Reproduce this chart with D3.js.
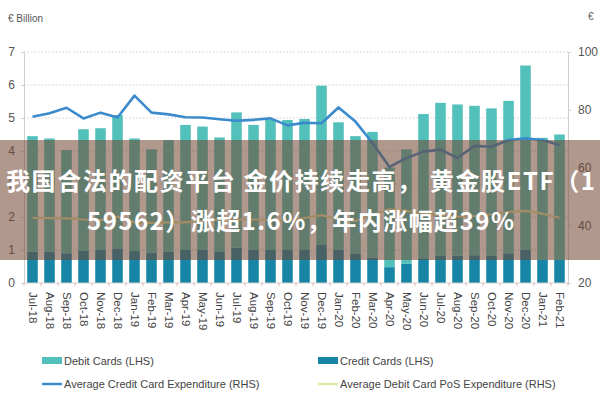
<!DOCTYPE html>
<html>
<head>
<meta charset="utf-8">
<script src="https://cdn.jsdelivr.net/npm/d3@7"></script>
<style>
  html, body { margin: 0; padding: 0; background: #fff; }
  svg { display: block; }
  .narrow { font-family: 'Liberation Sans', Arial, sans-serif; }
</style>
</head>
<body>
<svg id="chart" width="600" height="400"></svg>
<script>
const months = ["Jul-18","Aug-18","Sep-18","Oct-18","Nov-18","Dec-18",
  "Jan-19","Feb-19","Mar-19","Apr-19","May-19","Jun-19","Jul-19","Aug-19","Sep-19","Oct-19","Nov-19","Dec-19",
  "Jan-20","Feb-20","Mar-20","Apr-20","May-20","Jun-20","Jul-20","Aug-20","Sep-20","Oct-20","Nov-20","Dec-20",
  "Jan-21","Feb-21"];
// € billion (LHS), stacked: credit at the bottom, debit on top
const creditCards = [0.95,0.95,0.90,0.97,1.00,1.05,0.97,0.92,0.94,1.00,1.00,0.94,1.07,1.00,1.00,1.00,1.00,1.15,
  1.00,0.88,0.77,0.48,0.58,0.75,0.82,0.83,0.84,0.82,0.90,1.00,0.70,0.70];
const debitCards = [3.50,3.43,3.13,3.69,3.69,4.04,3.41,3.13,3.39,3.79,3.74,3.47,4.10,3.79,3.94,3.94,3.97,4.83,
  3.87,3.57,3.81,3.02,3.47,4.37,4.64,4.58,4.53,4.47,4.62,5.59,3.70,3.80];
// € (RHS)
const avgCreditExp = [77.6,78.8,80.7,77.0,79.0,77.3,84.9,79.0,78.4,77.4,77.3,76.7,76.2,76.5,77.0,74.6,75.5,75.3,
  80.8,75.9,68.5,60.2,63.3,65.5,66.2,63.3,67.5,67.2,69.5,70.1,69.5,67.8];
const avgDebitPosExp = [42.6,42.5,42.4,42.0,41.8,43.0,41.0,40.8,41.0,41.0,41.5,42.0,42.0,42.0,41.8,41.5,42.5,43.5,
  42.0,41.5,43.5,45.5,45.0,44.0,43.5,43.0,43.2,43.8,44.6,45.0,44.0,42.6];
const leftTicks = [0,1,2,3,4,5,6,7];
const rightTicks = [20,40,60,80,100];
const legendItems = ["Debit Cards (LHS)","Credit Cards (LHS)","Average Credit Card Expenditure (RHS)","Average Debit Card PoS Expenditure (RHS)"];
const bannerLines = ["我国合法的配资平台 金价持续走高， 黄金股ETF（1","59562）涨超1.6%，年内涨幅超39%"];

const C = { debit: "#52c0bb", credit: "#1786a6", creditLine: "#3b8bcc", debitLine: "#dfe7a6", grid: "#cfcfcf", axis: "#d0d0d0", text: "#555" };

const svg = d3.select("#chart");
const L = 24, R = 568, T = 52, B = 283;

const x = d3.scaleBand().domain(months).range([L, R]).paddingInner(0.38).paddingOuter(0.19);
const yL = d3.scaleLinear().domain([0, 7]).range([B, T]);
const yR = d3.scaleLinear().domain([20, 100]).range([B, T]);

// gridlines
svg.append("g").selectAll("line").data(leftTicks.filter(d => d > 0)).join("line")
  .attr("x1", L).attr("x2", R).attr("y1", d => yL(d)).attr("y2", d => yL(d))
  .attr("stroke", C.grid).attr("stroke-width", 1).attr("stroke-dasharray", "1.5,2");

// left axis
const gl = svg.append("g").attr("transform", `translate(${L},0)`)
  .call(d3.axisLeft(yL).tickValues(leftTicks).tickSize(3).tickPadding(6).tickFormat(d3.format("d")));
gl.select(".domain").attr("stroke", C.axis);
gl.selectAll(".tick line").attr("stroke", C.axis);
gl.selectAll("text").attr("fill", C.text).style("font-size", "12px").attr("class", "narrow");

// right axis
const gr = svg.append("g").attr("transform", `translate(${R},0)`)
  .call(d3.axisRight(yR).tickValues(rightTicks).tickSize(3).tickPadding(7));
gr.select(".domain").attr("stroke", C.axis);
gr.selectAll(".tick line").attr("stroke", C.axis);
gr.selectAll("text").attr("fill", C.text).style("font-size", "12px").attr("class", "narrow");

// bars
const gb = svg.append("g");
gb.selectAll("rect.credit").data(months).join("rect").attr("class", "credit")
  .attr("x", d => x(d)).attr("width", x.bandwidth())
  .attr("y", (d, i) => yL(creditCards[i])).attr("height", (d, i) => yL(0) - yL(creditCards[i]))
  .attr("fill", C.credit);
gb.selectAll("rect.debit").data(months).join("rect").attr("class", "debit")
  .attr("x", d => x(d)).attr("width", x.bandwidth())
  .attr("y", (d, i) => yL(creditCards[i] + debitCards[i])).attr("height", (d, i) => yL(creditCards[i]) - yL(creditCards[i] + debitCards[i]))
  .attr("fill", C.debit);

// x axis
const gx = svg.append("g").attr("transform", `translate(0,${B})`);
gx.append("line").attr("x1", L).attr("x2", R).attr("stroke", C.axis);
gx.selectAll("line.tk").data(d3.range(months.length + 1)).join("line").attr("class", "tk")
  .attr("x1", i => L + x.step() * i).attr("x2", i => L + x.step() * i)
  .attr("y1", 0).attr("y2", 3).attr("stroke", "#e9b0b0");
gx.selectAll("text").data(months).join("text").attr("class", "narrow")
  .attr("transform", d => `translate(${x(d) + x.bandwidth() / 2 - 4},9) rotate(90)`)
  .attr("fill", "#444").style("font-size", "11.5px").text(d => d);

// lines
const lineGen = arr => d3.line().x((d, i) => x(months[i]) + x.bandwidth() / 2).y(d => yR(d))(arr);
svg.append("path").attr("d", lineGen(avgDebitPosExp)).attr("fill", "none")
  .attr("stroke", C.debitLine).attr("stroke-width", 2.2).attr("stroke-linejoin", "round");
svg.append("path").attr("d", lineGen(avgCreditExp)).attr("fill", "none")
  .attr("stroke", C.creditLine).attr("stroke-width", 2.6).attr("stroke-linejoin", "round");

// unit labels
svg.append("text").attr("class", "narrow").attr("x", 8).attr("y", 22).attr("fill", C.text).style("font-size", "10px").text("€ Billion");
svg.append("text").attr("class", "narrow").attr("x", 588).attr("y", 20).attr("fill", C.text).style("font-size", "10px").text("€");

// legend
const lg = svg.append("g").attr("class", "narrow").style("font-size", "11px");
const lpos = [[42, 361], [318, 361], [42, 384], [318, 384]];
lg.append("rect").attr("x", lpos[0][0]).attr("y", lpos[0][1] - 4).attr("width", 20).attr("height", 7).attr("fill", C.debit);
lg.append("rect").attr("x", lpos[1][0]).attr("y", lpos[1][1] - 4).attr("width", 20).attr("height", 7).attr("fill", C.credit);
lg.append("line").attr("x1", lpos[2][0]).attr("x2", lpos[2][0] + 20).attr("y1", lpos[2][1]).attr("y2", lpos[2][1]).attr("stroke", C.creditLine).attr("stroke-width", 2.5);
lg.append("line").attr("x1", lpos[3][0]).attr("x2", lpos[3][0] + 20).attr("y1", lpos[3][1]).attr("y2", lpos[3][1]).attr("stroke", C.debitLine).attr("stroke-width", 2.5);
lg.selectAll("text").data(legendItems).join("text")
  .attr("x", (d, i) => lpos[i][0] + 22).attr("y", (d, i) => lpos[i][1] + 4).attr("fill", "#444").text(d => d);

// banner overlay
svg.append("rect").attr("x", 0).attr("y", 140).attr("width", 600).attr("height", 120)
  .attr("fill", "rgb(112,68,48)").attr("fill-opacity", 0.55);
const bt = svg.append("g").style("font-family", "'Noto Sans CJK SC', 'Noto Sans', sans-serif").style("font-weight", "700").style("font-size", "24px").attr("fill", "#fff");
const bx = [6, 87], bw = [589, 427], by = [190, 230];
bannerLines.forEach((t, i) => {
  bt.append("text").attr("x", bx[i]).attr("y", by[i]).attr("textLength", bw[i]).attr("lengthAdjust", "spacing").text(t);
});
</script>
</body>
</html>
